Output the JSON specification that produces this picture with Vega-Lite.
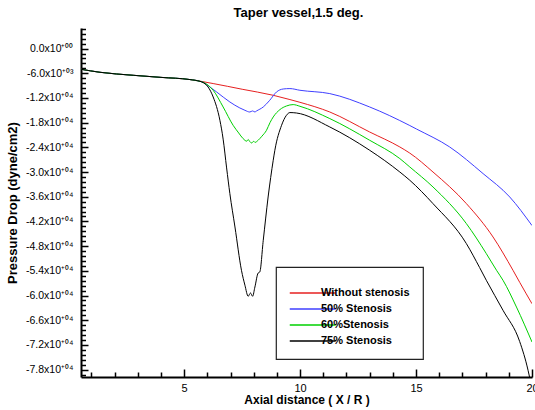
{
  "$schema": "https://vega.github.io/schema/vega-lite/v6.json",
  "width": 451,
  "height": 349,
  "autosize": "none",
  "padding": {"left": 81, "top": 28, "right": 3, "bottom": 33},
  "background": "white",
  "title": {"text": "Taper vessel,1.5 deg.", "font": "Liberation Sans", "fontSize": 13, "fontWeight": "bold", "anchor": "middle", "dx": -8, "offset": 8, "color": "black"},
  "config": {
    "view": {"stroke": null},
    "font": "Liberation Sans",
    "legend": {"strokeWidth": 1.2}
  },
  "data": {"values": [
    {"x": 0.55, "p": -5030, "s": "Without stenosis"},
    {"x": 1.37, "p": -5760, "s": "Without stenosis"},
    {"x": 2.8, "p": -6490, "s": "Without stenosis"},
    {"x": 4.0, "p": -7000, "s": "Without stenosis"},
    {"x": 5.25, "p": -7530, "s": "Without stenosis"},
    {"x": 6.25, "p": -8500, "s": "Without stenosis"},
    {"x": 7.5, "p": -9880, "s": "Without stenosis"},
    {"x": 8.84, "p": -11350, "s": "Without stenosis"},
    {"x": 9.56, "p": -12390, "s": "Without stenosis"},
    {"x": 9.99, "p": -13050, "s": "Without stenosis"},
    {"x": 11.28, "p": -15410, "s": "Without stenosis"},
    {"x": 13.0, "p": -20270, "s": "Without stenosis"},
    {"x": 14.3, "p": -23910, "s": "Without stenosis"},
    {"x": 14.73, "p": -25400, "s": "Without stenosis"},
    {"x": 15.73, "p": -29990, "s": "Without stenosis"},
    {"x": 17.17, "p": -37670, "s": "Without stenosis"},
    {"x": 18.32, "p": -45780, "s": "Without stenosis"},
    {"x": 19.18, "p": -53870, "s": "Without stenosis"},
    {"x": 19.47, "p": -56800, "s": "Without stenosis"},
    {"x": 20.0, "p": -62000, "s": "Without stenosis"},

    {"x": 0.55, "p": -5030, "s": "50% Stenosis"},
    {"x": 1.37, "p": -5760, "s": "50% Stenosis"},
    {"x": 2.8, "p": -6490, "s": "50% Stenosis"},
    {"x": 4.0, "p": -7000, "s": "50% Stenosis"},
    {"x": 5.25, "p": -7530, "s": "50% Stenosis"},
    {"x": 5.68, "p": -7950, "s": "50% Stenosis"},
    {"x": 5.82, "p": -8190, "s": "50% Stenosis"},
    {"x": 6.1, "p": -9300, "s": "50% Stenosis"},
    {"x": 6.4, "p": -10550, "s": "50% Stenosis"},
    {"x": 6.97, "p": -12980, "s": "50% Stenosis"},
    {"x": 7.4, "p": -14430, "s": "50% Stenosis"},
    {"x": 7.62, "p": -15000, "s": "50% Stenosis"},
    {"x": 7.83, "p": -15410, "s": "50% Stenosis"},
    {"x": 7.95, "p": -15150, "s": "50% Stenosis"},
    {"x": 8.05, "p": -15400, "s": "50% Stenosis"},
    {"x": 8.12, "p": -15160, "s": "50% Stenosis"},
    {"x": 8.41, "p": -14190, "s": "50% Stenosis"},
    {"x": 8.69, "p": -12560, "s": "50% Stenosis"},
    {"x": 8.98, "p": -10550, "s": "50% Stenosis"},
    {"x": 9.27, "p": -9820, "s": "50% Stenosis"},
    {"x": 9.56, "p": -9720, "s": "50% Stenosis"},
    {"x": 9.99, "p": -10130, "s": "50% Stenosis"},
    {"x": 11.28, "p": -10940, "s": "50% Stenosis"},
    {"x": 13.0, "p": -14190, "s": "50% Stenosis"},
    {"x": 14.73, "p": -18700, "s": "50% Stenosis"},
    {"x": 15.02, "p": -19550, "s": "50% Stenosis"},
    {"x": 16.45, "p": -23910, "s": "50% Stenosis"},
    {"x": 17.89, "p": -30380, "s": "50% Stenosis"},
    {"x": 19.04, "p": -36060, "s": "50% Stenosis"},
    {"x": 20.0, "p": -43000, "s": "50% Stenosis"},

    {"x": 0.55, "p": -5030, "s": "60%Stenosis"},
    {"x": 1.37, "p": -5760, "s": "60%Stenosis"},
    {"x": 2.8, "p": -6490, "s": "60%Stenosis"},
    {"x": 4.0, "p": -7000, "s": "60%Stenosis"},
    {"x": 5.25, "p": -7530, "s": "60%Stenosis"},
    {"x": 5.68, "p": -7950, "s": "60%Stenosis"},
    {"x": 5.82, "p": -8190, "s": "60%Stenosis"},
    {"x": 6.25, "p": -10130, "s": "60%Stenosis"},
    {"x": 6.68, "p": -14190, "s": "60%Stenosis"},
    {"x": 7.11, "p": -18640, "s": "60%Stenosis"},
    {"x": 7.35, "p": -20500, "s": "60%Stenosis"},
    {"x": 7.54, "p": -21870, "s": "60%Stenosis"},
    {"x": 7.7, "p": -22500, "s": "60%Stenosis"},
    {"x": 7.76, "p": -22100, "s": "60%Stenosis"},
    {"x": 7.83, "p": -22600, "s": "60%Stenosis"},
    {"x": 7.91, "p": -22940, "s": "60%Stenosis"},
    {"x": 8.0, "p": -22500, "s": "60%Stenosis"},
    {"x": 8.05, "p": -22800, "s": "60%Stenosis"},
    {"x": 8.19, "p": -22280, "s": "60%Stenosis"},
    {"x": 8.35, "p": -21300, "s": "60%Stenosis"},
    {"x": 8.55, "p": -19850, "s": "60%Stenosis"},
    {"x": 8.7, "p": -18000, "s": "60%Stenosis"},
    {"x": 8.84, "p": -16620, "s": "60%Stenosis"},
    {"x": 9.13, "p": -14820, "s": "60%Stenosis"},
    {"x": 9.41, "p": -13950, "s": "60%Stenosis"},
    {"x": 9.7, "p": -13610, "s": "60%Stenosis"},
    {"x": 9.99, "p": -14020, "s": "60%Stenosis"},
    {"x": 11.28, "p": -17010, "s": "60%Stenosis"},
    {"x": 13.0, "p": -22280, "s": "60%Stenosis"},
    {"x": 14.3, "p": -26730, "s": "60%Stenosis"},
    {"x": 14.73, "p": -28770, "s": "60%Stenosis"},
    {"x": 15.73, "p": -33630, "s": "60%Stenosis"},
    {"x": 17.17, "p": -42530, "s": "60%Stenosis"},
    {"x": 18.03, "p": -49820, "s": "60%Stenosis"},
    {"x": 18.47, "p": -53870, "s": "60%Stenosis"},
    {"x": 18.75, "p": -56300, "s": "60%Stenosis"},
    {"x": 19.33, "p": -62800, "s": "60%Stenosis"},
    {"x": 20.0, "p": -71300, "s": "60%Stenosis"},

    {"x": 0.55, "p": -5030, "s": "75% Stenosis"},
    {"x": 1.37, "p": -5760, "s": "75% Stenosis"},
    {"x": 2.8, "p": -6490, "s": "75% Stenosis"},
    {"x": 4.0, "p": -7000, "s": "75% Stenosis"},
    {"x": 5.25, "p": -7530, "s": "75% Stenosis"},
    {"x": 5.68, "p": -7950, "s": "75% Stenosis"},
    {"x": 6.03, "p": -9330, "s": "75% Stenosis"},
    {"x": 6.25, "p": -11760, "s": "75% Stenosis"},
    {"x": 6.54, "p": -17420, "s": "75% Stenosis"},
    {"x": 6.68, "p": -22000, "s": "75% Stenosis"},
    {"x": 6.83, "p": -29000, "s": "75% Stenosis"},
    {"x": 6.97, "p": -35240, "s": "75% Stenosis"},
    {"x": 7.19, "p": -43350, "s": "75% Stenosis"},
    {"x": 7.47, "p": -53870, "s": "75% Stenosis"},
    {"x": 7.62, "p": -57500, "s": "75% Stenosis"},
    {"x": 7.76, "p": -60190, "s": "75% Stenosis"},
    {"x": 7.86, "p": -59390, "s": "75% Stenosis"},
    {"x": 7.95, "p": -60190, "s": "75% Stenosis"},
    {"x": 8.05, "p": -57930, "s": "75% Stenosis"},
    {"x": 8.19, "p": -54530, "s": "75% Stenosis"},
    {"x": 8.26, "p": -54290, "s": "75% Stenosis"},
    {"x": 8.41, "p": -46580, "s": "75% Stenosis"},
    {"x": 8.62, "p": -36060, "s": "75% Stenosis"},
    {"x": 8.84, "p": -27140, "s": "75% Stenosis"},
    {"x": 8.91, "p": -24710, "s": "75% Stenosis"},
    {"x": 9.2, "p": -18640, "s": "75% Stenosis"},
    {"x": 9.41, "p": -16210, "s": "75% Stenosis"},
    {"x": 9.56, "p": -15550, "s": "75% Stenosis"},
    {"x": 9.84, "p": -15650, "s": "75% Stenosis"},
    {"x": 11.28, "p": -19050, "s": "75% Stenosis"},
    {"x": 13.0, "p": -24710, "s": "75% Stenosis"},
    {"x": 14.3, "p": -29990, "s": "75% Stenosis"},
    {"x": 14.73, "p": -32000, "s": "75% Stenosis"},
    {"x": 15.73, "p": -37670, "s": "75% Stenosis"},
    {"x": 17.17, "p": -47390, "s": "75% Stenosis"},
    {"x": 17.74, "p": -53200, "s": "75% Stenosis"},
    {"x": 18.03, "p": -56300, "s": "75% Stenosis"},
    {"x": 18.75, "p": -63590, "s": "75% Stenosis"},
    {"x": 19.47, "p": -71200, "s": "75% Stenosis"},
    {"x": 19.83, "p": -78170, "s": "75% Stenosis"},
    {"x": 19.92, "p": -80500, "s": "75% Stenosis"}
  ]},
  "mark": {"type": "line", "strokeWidth": 1, "clip": true, "interpolate": "monotone"},
  "encoding": {
    "x": {
      "field": "x", "type": "quantitative",
      "scale": {"domain": [0.55, 20], "nice": false, "zero": false},
      "axis": {
        "title": "Axial distance  ( X / R )",
        "titleFont": "Liberation Sans", "titleFontSize": 12, "titleFontWeight": "bold", "titleColor": "black",
        "titlePadding": 1,
        "values": [1,2,3,4,5,6,7,8,9,10,11,12,13,14,15,16,17,18,19,20],
        "labelExpr": "datum.value % 5 == 0 ? datum.value : ''",
        "labelFont": "Liberation Sans", "labelFontSize": 11, "labelColor": "black",
        "labelFlush": false, "labelPadding": 13,
        "tickSize": -8,
        "tickDash": {"condition": {"test": "datum.value % 5 == 0", "value": [20, 0]}, "value": [5, 30]},
        "tickColor": "black", "tickWidth": 1.5,
        "domainColor": "black", "domainWidth": 2,
        "grid": false
      }
    },
    "y": {
      "field": "p", "type": "quantitative",
      "scale": {"domain": [-79800, 5000], "nice": false, "zero": false},
      "axis": {
        "title": "Pressure Drop (dyne/cm2)",
        "titleFont": "Liberation Sans", "titleFontSize": 13, "titleFontWeight": "bold", "titleColor": "black",
        "titlePadding": 6,
        "values": [4800,3600,2400,1200,0,-1200,-2400,-3600,-4800,-6000,-7200,-8400,-9600,-10800,-12000,-13200,-14400,-15600,-16800,-18000,-19200,-20400,-21600,-22800,-24000,-25200,-26400,-27600,-28800,-30000,-31200,-32400,-33600,-34800,-36000,-37200,-38400,-39600,-40800,-42000,-43200,-44400,-45600,-46800,-48000,-49200,-50400,-51600,-52800,-54000,-55200,-56400,-57600,-58800,-60000,-61200,-62400,-63600,-64800,-66000,-67200,-68400,-69600,-70800,-72000,-73200,-74400,-75600,-76800,-78000,-79200],
        "labelExpr": "(datum.value % 6000 != 0 || datum.value > 0) ? '' : (datum.value == 0 ? '0.0x10⁺⁰⁰' : (abs(datum.value) < 10000 ? '-' + format(abs(datum.value)/1000, '.1f') + 'x10⁺⁰³' : '-' + format(abs(datum.value)/10000, '.1f') + 'x10⁺⁰⁴'))",
        "labelFont": "Liberation Sans", "labelFontSize": 10.5, "labelColor": "black",
        "labelFlush": false, "labelPadding": 15,
        "tickSize": -7,
        "tickDash": {"condition": {"test": "datum.value % 6000 == 0", "value": [20, 0]}, "value": [4.5, 30]},
        "tickColor": "black", "tickWidth": 1.5,
        "domainColor": "black", "domainWidth": 2,
        "grid": false
      }
    },
    "color": {
      "field": "s", "type": "nominal",
      "scale": {
        "domain": ["Without stenosis", "50% Stenosis", "60%Stenosis", "75% Stenosis"],
        "range": ["#e62020", "#3f3fff", "#00d000", "#000000"]
      },
      "legend": {
        "orient": "none", "legendX": 195, "legendY": 239,
        "title": " ", "titleFontSize": 3, "titlePadding": 3.5,
        "strokeColor": "#222222", "fillColor": "white", "padding": 13,
        "symbolType": "M-1,0H7", "symbolSize": 132, "symbolStrokeWidth": 1.5,
        "labelFont": "Liberation Sans", "labelFontSize": 11, "labelFontWeight": "bold", "labelColor": "black",
        "labelOffset": 19, "rowPadding": 4
      }
    }
  }
}
